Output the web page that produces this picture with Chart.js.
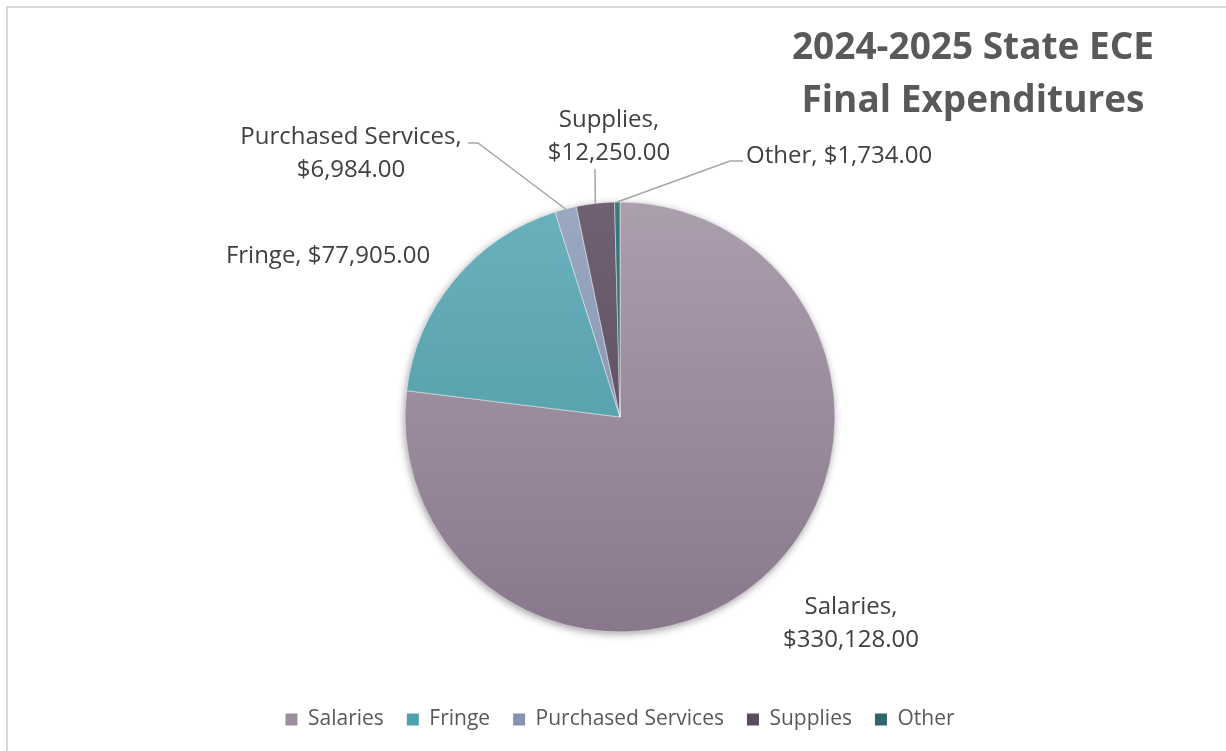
<!DOCTYPE html>
<html>
<head>
<meta charset="utf-8">
<style>
  html, body { margin: 0; padding: 0; background: #ffffff; }
  #wrap { width: 1226px; height: 751px; position: relative; }
</style>
<script src="https://cdn.jsdelivr.net/npm/chart.js@4.4.1/dist/chart.umd.min.js"></script>
</head>
<body>
<div id="wrap"><canvas id="chart" width="1226" height="751"></canvas></div>
<script>
// Expenditure categories and amounts
const categories = ['Salaries', 'Fringe', 'Purchased Services', 'Supplies', 'Other'];
const amounts = [330128, 77905, 6984, 12250, 1734];
const titleLines = ['2024-2025 State ECE', 'Final Expenditures'];

// Slice shading: light tone at the top of the pie, deep tone at the bottom
const sliceTop = ['#ab9ead', '#6ab1bb', '#9aa8c2', '#6f6072', '#3a7a80'];
const sliceBottom = ['#89788c', '#4895a2', '#7c89a5', '#55465a', '#285c61'];
// Legend swatch tones
const swatch = ['#9d8fa0', '#4fa2ad', '#8593b0', '#5b4c5f', '#2e6569'];

// Callout text placement (text anchor, alignment and leader elbow)
const calloutPlacement = [
  { x: 851, y: 607, align: 'center', twoLines: true, leader: null },
  { x: 328, y: 256, align: 'center', twoLines: false, leader: null },
  { x: 351, y: 137, align: 'center', twoLines: true, leader: [[468, 143], [478, 143]] },
  { x: 609, y: 120, align: 'center', twoLines: true, leader: [[595, 169]] },
  { x: 746, y: 156, align: 'left', twoLines: false, leader: [[743, 161], [730, 161]] }
];

const pieRadius = 215;

const money = v => '$' + v.toLocaleString('en-US', { minimumFractionDigits: 2, maximumFractionDigits: 2 });

const labelFont = '24px "Open Sans", sans-serif';
const labelColor = '#404040';

function sliceGradient(ctx) {
  const chart = ctx.chart;
  const area = chart.chartArea;
  const i = ctx.dataIndex;
  if (!area || !isFinite(area.top) || !isFinite(area.bottom)) return sliceTop[i];
  const cy = (area.top + area.bottom) / 2;
  const g = chart.ctx.createLinearGradient(0, cy - pieRadius, 0, cy + pieRadius);
  g.addColorStop(0, sliceTop[i]);
  g.addColorStop(1, sliceBottom[i]);
  return g;
}

// Frame, soft drop shadow under the pie, title and callouts
const decorations = {
  id: 'decorations',
  beforeDraw(chart) {
    const c = chart.ctx;
    c.save();
    c.fillStyle = '#ffffff';
    c.fillRect(0, 0, chart.width, chart.height);
    c.strokeStyle = '#d9d9d9';
    c.lineWidth = 2;
    c.beginPath();
    c.moveTo(7, chart.height + 5);
    c.lineTo(7, 7);
    c.lineTo(chart.width + 5, 7);
    c.stroke();
    c.restore();
  },
  beforeDatasetsDraw(chart) {
    const arc = chart.getDatasetMeta(0).data[0];
    if (!arc || !isFinite(arc.x) || !isFinite(arc.outerRadius)) return;
    const c = chart.ctx;
    c.save();
    c.shadowColor = 'rgba(0,0,0,0.45)';
    c.shadowBlur = 9;
    c.shadowOffsetX = -1;
    c.shadowOffsetY = 2;
    c.fillStyle = '#9a8a9c';
    c.beginPath();
    c.arc(arc.x, arc.y, arc.outerRadius - 1, 0, Math.PI * 2);
    c.fill();
    c.restore();
  },
  afterDatasetsDraw(chart) {
    const c = chart.ctx;
    const meta = chart.getDatasetMeta(0);
    c.save();
    // title
    c.fillStyle = '#595959';
    c.font = 'bold 37px "Open Sans", sans-serif';
    c.textAlign = 'center';
    c.textBaseline = 'middle';
    titleLines.forEach((t, i) => c.fillText(t, 973, 48 + i * 53));

    // callouts
    c.font = labelFont;
    c.textBaseline = 'middle';
    meta.data.forEach((arc, i) => {
      const p = calloutPlacement[i];
      const name = categories[i] + ',';
      const val = money(amounts[i]);
      c.fillStyle = labelColor;
      c.textAlign = p.align;
      if (p.twoLines) {
        c.fillText(name, p.x, p.y);
        c.fillText(val, p.x, p.y + 33);
      } else {
        c.fillText(name + ' ' + val, p.x, p.y);
      }
      if (p.leader) {
        const mid = (arc.startAngle + arc.endAngle) / 2;
        const ex = arc.x + Math.cos(mid) * arc.outerRadius;
        const ey = arc.y + Math.sin(mid) * arc.outerRadius;
        c.strokeStyle = '#a6a6a6';
        c.lineWidth = 1.5;
        c.beginPath();
        c.moveTo(p.leader[0][0], p.leader[0][1]);
        for (let k = 1; k < p.leader.length; k++) c.lineTo(p.leader[k][0], p.leader[k][1]);
        c.lineTo(ex, ey);
        c.stroke();
      }
    });
    c.restore();
  }
};

new Chart(document.getElementById('chart'), {
  type: 'pie',
  data: {
    labels: categories,
    datasets: [{
      data: amounts,
      radius: pieRadius,
      backgroundColor: sliceGradient,
      borderColor: 'rgba(255,255,255,0.45)',
      borderWidth: 1
    }]
  },
  options: {
    responsive: false,
    animation: false,
    layout: { padding: { top: 148, bottom: 11, left: 14, right: 0 } },
    plugins: {
      tooltip: { enabled: false },
      title: { display: false },
      legend: {
        position: 'bottom',
        labels: {
          boxWidth: 12,
          boxHeight: 12,
          padding: 23,
          color: '#595959',
          font: { family: '"Open Sans", sans-serif', size: 21 },
          generateLabels(chart) {
            return categories.map((name, i) => ({
              text: name,
              fillStyle: swatch[i],
              strokeStyle: swatch[i],
              lineWidth: 0,
              hidden: false,
              index: i,
              fontColor: '#595959'
            }));
          }
        }
      }
    }
  },
  plugins: [decorations]
});
</script>
</body>
</html>
